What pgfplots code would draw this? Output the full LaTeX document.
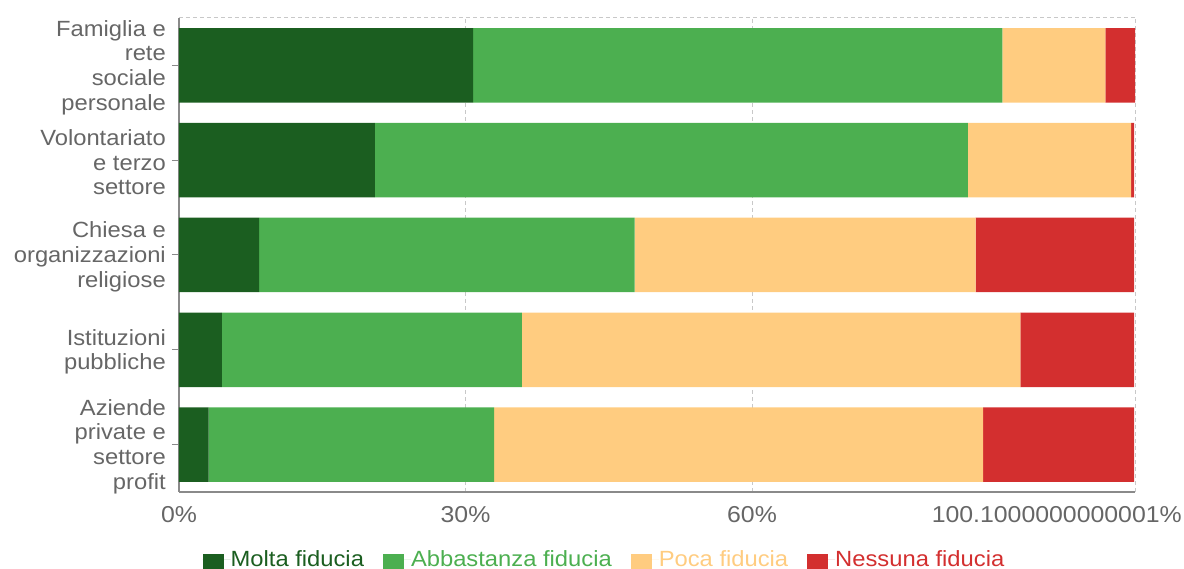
\documentclass[border=0pt]{standalone}
\usepackage{pgfplots}
\pgfplotsset{compat=1.18}
\usepackage{fontspec}
\setmainfont{Liberation Sans}[FakeStretch=1.08]
\definecolor{c1}{HTML}{1B5E20}
\definecolor{c2}{HTML}{4CAF50}
\definecolor{c3}{HTML}{FFCC80}
\definecolor{c4}{HTML}{D32F2F}
\definecolor{ticktext}{HTML}{666666}
\definecolor{axisgray}{HTML}{8A8A8A}
\definecolor{gridgray}{HTML}{C8C8C8}
\begin{document}
\begin{tikzpicture}[x=1pt,y=1pt]
\path[use as bounding box] (0,0) rectangle (1184,569);
\begin{axis}[
  at={(179pt,77pt)}, anchor=south west,
  scale only axis, width=956pt, height=474pt,
  xbar stacked, bar width=0.786,
  xmin=0, xmax=100.1, ymin=-0.5, ymax=4.5,
  axis x line*=bottom, axis y line*=left,
  axis line style={axisgray, line width=1.2pt},
  tick align=outside, major tick length=7pt,
  xtick={0,30,60,100.1},
  xticklabels={0\%,30\%,60\%,},
  xtick style={draw=none},
  ytick={0,1,2,3,4},
  yticklabels={{Aziende\\private e\\settore\\profit},{Istituzioni\\pubbliche},{Chiesa e\\organizzazioni\\religiose},{Volontariato\\e terzo\\settore},{Famiglia e\\rete\\sociale\\personale}},
  ytick style={axisgray, line width=1pt},
  yticklabel style={align=right, font=\fontsize{22}{24.7}\selectfont, text=ticktext, inner sep=2pt, xshift=-4pt, yshift=-2pt},
  xticklabel style={font=\fontsize{23}{26}\selectfont, text=ticktext, inner sep=2pt, yshift=-5pt},
  xmajorgrids=true,
  major grid style={gridgray, line width=1pt, dash pattern=on 4pt off 3pt},
  extra y ticks={4.5}, extra y tick labels={},
  extra y tick style={grid=major, tick style={draw=none}},
  extra x ticks={0,100.1}, extra x tick labels={,100.1000000000001\%},
  extra x tick style={grid=none, tick style={draw=axisgray, line width=1.2pt},
    xticklabel style={anchor=north east, xshift=49pt}},
  legend columns=4,
  legend style={draw=none, fill=none, at={(0.444,-0.146)}, anchor=center,
    font=\fontsize{22}{24.7}\selectfont, nodes={inner xsep=0pt},
    /tikz/every even column/.append style={column sep=19pt},
    /tikz/every odd column/.append style={column sep=0pt}},
  legend cell align=left,
  legend image code/.code={\fill[#1,draw=none] (0pt,-15pt) rectangle (21pt,5pt); \path (0pt,0pt) -- (28pt,0pt);},
]
\addplot[fill=c1, draw=none] coordinates {(3.1,0) (4.5,1) (8.4,2) (20.5,3) (30.8,4)};
\addplot[fill=c2, draw=none] coordinates {(29.9,0) (31.4,1) (39.3,2) (62.1,3) (55.4,4)};
\addplot[fill=c3, draw=none] coordinates {(51.2,0) (52.2,1) (35.7,2) (17.1,3) (10.8,4)};
\addplot[fill=c4, draw=none] coordinates {(15.8,0) (11.9,1) (16.6,2) (0.3,3) (3.1,4)};
\legend{\textcolor{c1}{Molta fiducia},\textcolor{c2}{Abbastanza fiducia},\textcolor{c3}{Poca fiducia},\textcolor{c4}{Nessuna fiducia}}
\end{axis}
\end{tikzpicture}
\end{document}
